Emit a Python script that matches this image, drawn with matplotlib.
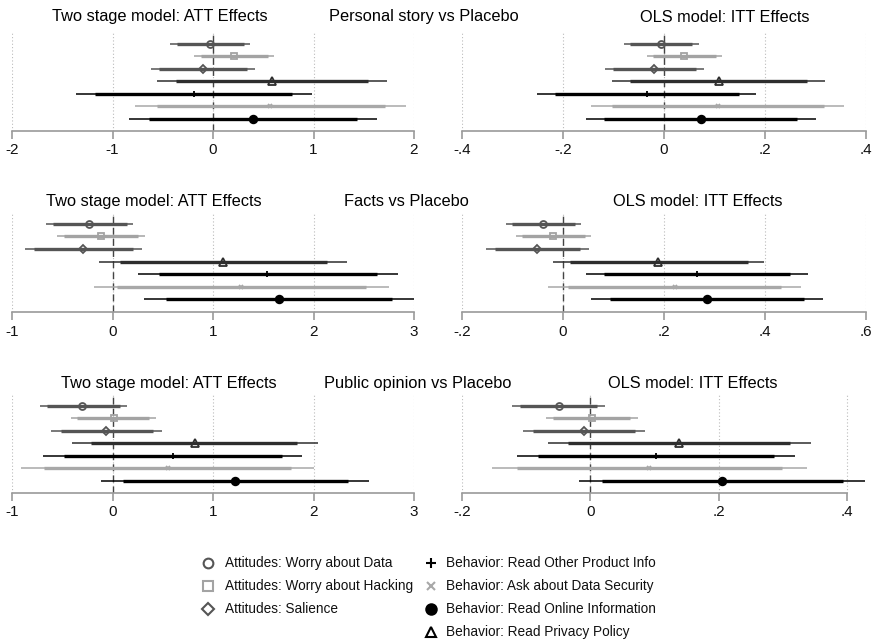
import matplotlib.pyplot as plt
from matplotlib.lines import Line2D

plt.rcParams['font.family'] = ['Liberation Sans', 'DejaVu Sans']

outcomes = ["Attitudes: Worry about Data", "Attitudes: Worry about Hacking", "Attitudes: Salience",
            "Behavior: Read Privacy Policy", "Behavior: Read Other Product Info",
            "Behavior: Ask about Data Security", "Behavior: Read Online Information"]
treatments = ["Personal story vs Placebo", "Facts vs Placebo", "Public opinion vs Placebo"]

# point estimate, inner (90%) and outer (95%) intervals, rows top to bottom
att_story_est = [-0.03, 0.21, -0.10, 0.59, -0.19, 0.57, 0.40]
att_story_in = [(-0.36, 0.31), (-0.12, 0.55), (-0.54, 0.34), (-0.37, 1.54), (-1.17, 0.79), (-0.56, 1.71), (-0.64, 1.43)]
att_story_out = [(-0.43, 0.37), (-0.19, 0.61), (-0.62, 0.42), (-0.56, 1.73), (-1.36, 0.99), (-0.78, 1.92), (-0.84, 1.63)]

ols_story_est = [-0.005, 0.039, -0.019, 0.108, -0.034, 0.106, 0.073]
ols_story_in = [(-0.067, 0.055), (-0.022, 0.102), (-0.101, 0.063), (-0.068, 0.284), (-0.216, 0.148), (-0.103, 0.316), (-0.118, 0.263)]
ols_story_out = [(-0.080, 0.069), (-0.034, 0.114), (-0.117, 0.080), (-0.103, 0.319), (-0.251, 0.182), (-0.145, 0.356), (-0.154, 0.301)]

att_facts_est = [-0.23, -0.11, -0.29, 1.10, 1.54, 1.28, 1.66]
att_facts_in = [(-0.59, 0.14), (-0.48, 0.25), (-0.78, 0.20), (0.07, 2.13), (0.46, 2.63), (0.04, 2.52), (0.53, 2.78)]
att_facts_out = [(-0.66, 0.20), (-0.55, 0.32), (-0.87, 0.29), (-0.13, 2.33), (0.25, 2.84), (-0.18, 2.75), (0.31, 3.00)]

ols_facts_est = [-0.040, -0.020, -0.051, 0.189, 0.265, 0.221, 0.285]
ols_facts_in = [(-0.101, 0.023), (-0.081, 0.043), (-0.135, 0.034), (0.013, 0.366), (0.081, 0.450), (0.010, 0.432), (0.094, 0.477)]
ols_facts_out = [(-0.113, 0.036), (-0.093, 0.056), (-0.152, 0.051), (-0.020, 0.399), (0.046, 0.486), (-0.030, 0.471), (0.056, 0.515)]

att_public_est = [-0.30, 0.01, -0.06, 0.82, 0.60, 0.55, 1.22]
att_public_in = [(-0.65, 0.07), (-0.35, 0.36), (-0.51, 0.40), (-0.21, 1.84), (-0.48, 1.69), (-0.68, 1.78), (0.10, 2.34)]
att_public_out = [(-0.72, 0.14), (-0.41, 0.43), (-0.61, 0.49), (-0.40, 2.04), (-0.69, 1.89), (-0.91, 2.00), (-0.11, 2.55)]

ols_public_est = [-0.049, 0.003, -0.009, 0.139, 0.102, 0.091, 0.206]
ols_public_in = [(-0.110, 0.011), (-0.058, 0.062), (-0.089, 0.070), (-0.034, 0.311), (-0.081, 0.286), (-0.114, 0.299), (0.019, 0.394)]
ols_public_out = [(-0.122, 0.023), (-0.069, 0.074), (-0.105, 0.086), (-0.066, 0.344), (-0.115, 0.319), (-0.153, 0.338), (-0.017, 0.429)]

att_ticks = [[-2, -1, 0, 1, 2], [-1, 0, 1, 2, 3], [-1, 0, 1, 2, 3]]
att_labels = [["-2", "-1", "0", "1", "2"], ["-1", "0", "1", "2", "3"], ["-1", "0", "1", "2", "3"]]
ols_ticks = [[-0.4, -0.2, 0, 0.2, 0.4], [-0.2, 0, 0.2, 0.4, 0.6], [-0.2, 0, 0.2, 0.4]]
ols_labels = [["-.4", "-.2", "0", ".2", ".4"], ["-.2", "0", ".2", ".4", ".6"], ["-.2", "0", ".2", ".4"]]

colors = ['#555555', '#a3a3a3', '#555555', '#2e2e2e', '#000000', '#a8a8a8', '#000000']
markers = ['o', 's', 'D', '^', '+', 'x', 'o']
faces = ['none', 'none', 'none', 'none', '#000000', '#a8a8a8', '#000000']
msizes = [5, 5, 4.5, 5.5, 5, 3.5, 5.5]

W, H = 873, 642
fig = plt.figure(figsize=(W / 100, H / 100), dpi=100)


def coefplot(ax, est, inner, outer, ticks, labels, xmax=None):
    rows = range(1, len(est) + 1)
    for t in ticks:
        ax.axvline(t, color='#bbbbbb', lw=0.8, ls=(0, (1, 2)), zorder=0)
    ax.axvline(0, color='#444444', lw=1.0, ls=(0, (5, 3)), zorder=1)
    for r, e, (a, b), (c, d), col, m, fc, ms in zip(rows, est, inner, outer, colors, markers, faces, msizes):
        ax.plot([c, d], [r, r], color=col, lw=1.1, solid_capstyle='butt', zorder=2)
        ax.plot([a, b], [r, r], color=col, lw=2.4, solid_capstyle='butt', zorder=3)
        ax.plot(e, r, marker=m, ms=ms, mfc=fc, mec=col, mew=1.3, ls='none', zorder=4)
    ax.set_xlim(ticks[0], xmax if xmax is not None else ticks[-1])
    ax.set_ylim(8.0, 0.15)
    ax.set_yticks([])
    for s in ['top', 'right', 'left']:
        ax.spines[s].set_visible(False)
    ax.spines['bottom'].set_color('#9a9a9a')
    ax.spines['bottom'].set_linewidth(1.2)
    ax.spines['bottom'].set_bounds(ticks[0], ticks[-1])
    ax.set_xticks(ticks)
    ax.set_xticklabels(labels)
    ax.tick_params(axis='x', colors='#9a9a9a', length=6, width=1.2, labelcolor='#111111', labelsize=11, pad=3)
    ax.patch.set_alpha(0)


panel_tops = [33, 213, 395]
panel_bottoms = [131, 312, 493]
att_data = [(att_story_est, att_story_in, att_story_out),
            (att_facts_est, att_facts_in, att_facts_out),
            (att_public_est, att_public_in, att_public_out)]
ols_data = [(ols_story_est, ols_story_in, ols_story_out),
            (ols_facts_est, ols_facts_in, ols_facts_out),
            (ols_public_est, ols_public_in, ols_public_out)]
ols_xmax = [None, None, 0.43]

title_y = [17, 202, 384]
left_title_x = [160, 154, 169]
mid_title_x = [424, 406, 418]
right_title_x = [725, 698, 693]

for i in range(3):
    b = 1 - panel_bottoms[i] / H
    h = (panel_bottoms[i] - panel_tops[i]) / H
    ax1 = fig.add_axes([12 / W, b, 402 / W, h])
    coefplot(ax1, *att_data[i], att_ticks[i], att_labels[i])
    ax2 = fig.add_axes([462 / W, b, 404 / W, h])
    coefplot(ax2, *ols_data[i], ols_ticks[i], ols_labels[i], ols_xmax[i])
    ty = 1 - title_y[i] / H
    fig.text(left_title_x[i] / W, ty, "Two stage model: ATT Effects", ha='center', va='center', fontsize=11.8)
    fig.text(mid_title_x[i] / W, ty, treatments[i], ha='center', va='center', fontsize=11.8)
    fig.text(right_title_x[i] / W, ty, "OLS model: ITT Effects", ha='center', va='center', fontsize=11.8)

# legend: attitudes on the left, behaviors on the right
legend_left = [0, 1, 2]
legend_right = [4, 5, 6, 3]
legend_rows = [563, 586, 609, 632]
for col_idx, (mx, tx) in zip([legend_left, legend_right], [(208, 225), (431, 446)]):
    for k, y in zip(col_idx, legend_rows):
        mec = '#000000' if k == 3 else colors[k]
        fig.add_artist(Line2D([mx / W], [1 - y / H], transform=fig.transFigure, ls='none',
                              marker=markers[k], ms=msizes[k] + 2, mfc=faces[k], mec=mec, mew=1.5))
        fig.text(tx / W, 1 - y / H, outcomes[k], ha='left', va='center', fontsize=9.8, color='#111111')

plt.savefig("out.png", dpi=100)
